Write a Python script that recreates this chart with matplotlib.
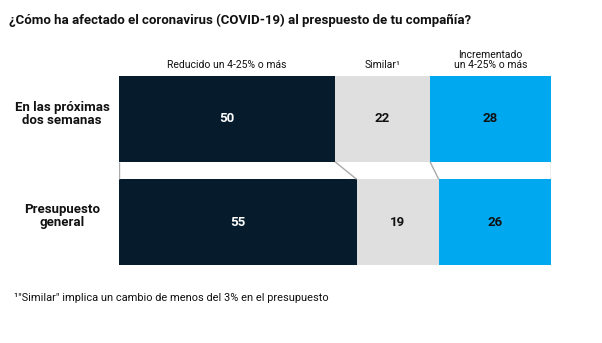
import matplotlib
matplotlib.use('Agg')
import matplotlib.pyplot as plt
import numpy as np

plt.rcParams['font.family'] = ['Roboto', 'DejaVu Sans']

rows = ["En las próximas\ndos semanas", "Presupuesto\ngeneral"]
categories = ["Reducido un 4-25% o más", "Similar¹", "Incrementado\nun 4-25% o más"]
reducido = [50, 55]
similar = [22, 19]
incrementado = [28, 26]

colors = ["#061c2d", "#dfdfdf", "#00a8f0"]
text_colors = ["white", "#111111", "#111111"]

fig = plt.figure(figsize=(6.02, 3.43), dpi=100)
ax = fig.add_axes([119 / 602, 1 - 265 / 343, 432 / 602, 189 / 343])

series = np.array([reducido, similar, incrementado], dtype=float)
lefts = np.vstack([np.zeros(len(rows)), np.cumsum(series, axis=0)[:-1]])
ypos = np.arange(len(rows))
h = 0.83

for k in range(len(categories)):
    ax.barh(ypos, series[k], left=lefts[k], height=h, color=colors[k], linewidth=0)
    for i in ypos:
        ax.text(lefts[k][i] + series[k][i] / 2, i, f"{series[k][i]:.0f}",
                ha='center', va='center', fontsize=9.5, fontweight='bold',
                color=text_colors[k])

# connectors between the two bars
bounds = np.vstack([lefts, [100, 100]])
for b in bounds:
    ax.plot([b[0], b[1]], [h / 2, 1 - h / 2], color="#aaaaaa", lw=1, solid_capstyle='butt')

ax.set_xlim(0, 100)
ax.set_ylim(1 + h / 2, -h / 2)
ax.axis('off')

# column headers above the first bar
for k, cat in enumerate(categories):
    ax.text(lefts[k][0] + series[k][0] / 2, -h / 2 - 0.06, cat, ha='center', va='bottom',
            fontsize=7.5, color="#111111", linespacing=1.0)

for i, r in enumerate(rows):
    fig.text(62 / 602, 1 - (114 + 102 * i) / 343, r, ha='center', va='center',
             fontsize=9.5, fontweight='bold', color="#111111", linespacing=0.95)

fig.text(9 / 602, 1 - 20 / 343,
         "¿Cómo ha afectado el coronavirus (COVID-19) al prespuesto de tu compañía?",
         ha='left', va='center', fontsize=9.5, fontweight='bold', color="#111111")
fig.text(14 / 602, 1 - 298 / 343,
         "¹\"Similar\" implica un cambio de menos del 3% en el presupuesto",
         ha='left', va='center', fontsize=7.9, color="#111111")

fig.savefig("out.png", dpi=100)
